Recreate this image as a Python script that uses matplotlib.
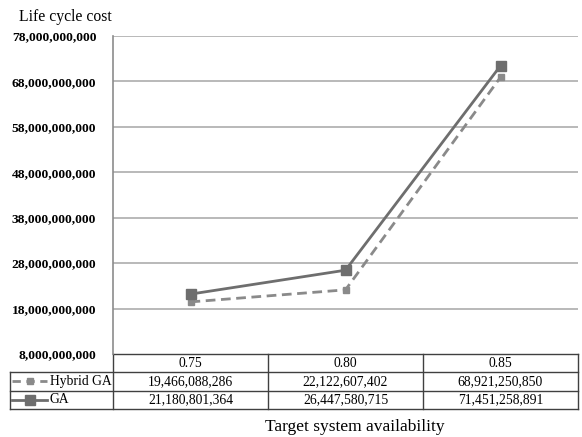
import matplotlib
matplotlib.use("Agg")
import matplotlib.pyplot as plt

# ---- data ----
categories = ["0.75", "0.80", "0.85"]
series_names = ["Hybrid GA", "GA"]
hybrid_ga = [19466088286, 22122607402, 68921250850]
ga = [21180801364, 26447580715, 71451258891]
y_ticks = [8e9, 18e9, 28e9, 38e9, 48e9, 58e9, 68e9, 78e9]

plt.rcParams['font.family'] = ['Liberation Serif', 'DejaVu Serif']

W, H = 582, 437
fig = plt.figure(figsize=(W / 100, H / 100), dpi=100)
L, R, T, B = 113, 578, 36, 354
ax = fig.add_axes([L / W, 1 - B / H, (R - L) / W, (B - T) / H])

x = list(range(len(categories)))
line_col = '#6e6e6e'
dash_col = '#8a8a8a'
ax.plot(x, hybrid_ga, color=dash_col, lw=2, ls=(0, (3.5, 2)), marker='s',
        ms=5, mfc=dash_col, mec=dash_col, zorder=3)
ax.plot(x, ga, color=line_col, lw=2, marker='s', ms=7.5, mfc=line_col,
        mec=line_col, zorder=4)

ax.set_xlim(-0.5, len(categories) - 0.5)
ax.set_ylim(y_ticks[0], y_ticks[-1])
ax.set_yticks(y_ticks)
ax.set_yticklabels([f"{int(v):,}" for v in y_ticks], fontweight='bold', fontsize=9.7)
ax.tick_params(axis='y', length=0, pad=12)
ax.set_xticks([])
for v in y_ticks[1:]:
    ax.axhline(v, color='#adadad', lw=1.2, zorder=1)
for s in ['top', 'right', 'bottom']:
    ax.spines[s].set_visible(False)
ax.spines['left'].set_color('#8c8c8c')
ax.spines['left'].set_linewidth(1.2)

# ---- data table below axes ----
rh = 18.3 / (B - T)          # row height in axes fraction
left_x = (10 - L) / (R - L)  # left edge of label column
tab_col = '#404040'
tr = ax.transAxes
kw = dict(transform=tr, clip_on=False, color=tab_col, lw=1)
ax.plot([0, 1], [0, 0], **kw)
for k in (1, 2, 3):
    ax.plot([left_x, 1], [-k * rh, -k * rh], **kw)
ax.plot([left_x, left_x], [-rh, -3 * rh], **kw)
ax.plot([0, 0], [0, -3 * rh], **kw)
for i in range(1, len(categories) + 1):
    xf = i / len(categories)
    ax.plot([xf, xf], [0, -3 * rh], **kw)

fs = 9.8
for i, c in enumerate(categories):
    xc = (i + 0.5) / len(categories)
    ax.text(xc, -0.5 * rh, c, transform=tr, ha='center', va='center', fontsize=fs)
    ax.text(xc, -1.5 * rh, f"{hybrid_ga[i]:,}", transform=tr, ha='center', va='center', fontsize=fs)
    ax.text(xc, -2.5 * rh, f"{ga[i]:,}", transform=tr, ha='center', va='center', fontsize=fs)

# legend keys in table
k0 = (12 - L) / (R - L)
k1 = (47 - L) / (R - L)
km = (30 - L) / (R - L)
ax.plot([k0, k1], [-1.5 * rh] * 2, transform=tr, clip_on=False, color=dash_col,
        lw=2, ls=(0, (3, 2)))
ax.plot([km], [-1.5 * rh], transform=tr, clip_on=False, marker='s', ms=5,
        color=dash_col, ls='none')
ax.plot([k0, k1], [-2.5 * rh] * 2, transform=tr, clip_on=False, color=line_col, lw=2)
ax.plot([km], [-2.5 * rh], transform=tr, clip_on=False, marker='s', ms=6.5,
        color=line_col, ls='none')
tx = (50 - L) / (R - L)
ax.text(tx, -1.5 * rh, series_names[0], transform=tr, ha='left', va='center', fontsize=fs)
ax.text(tx, -2.5 * rh, series_names[1], transform=tr, ha='left', va='center', fontsize=fs)

fig.text(19 / W, 1 - 17 / H, "Life cycle cost", ha='left', va='center', fontsize=11.3)
fig.text(355 / W, 1 - 427 / H, "Target system availability", ha='center', va='center', fontsize=12.5)

fig.savefig("out.png", dpi=100)
